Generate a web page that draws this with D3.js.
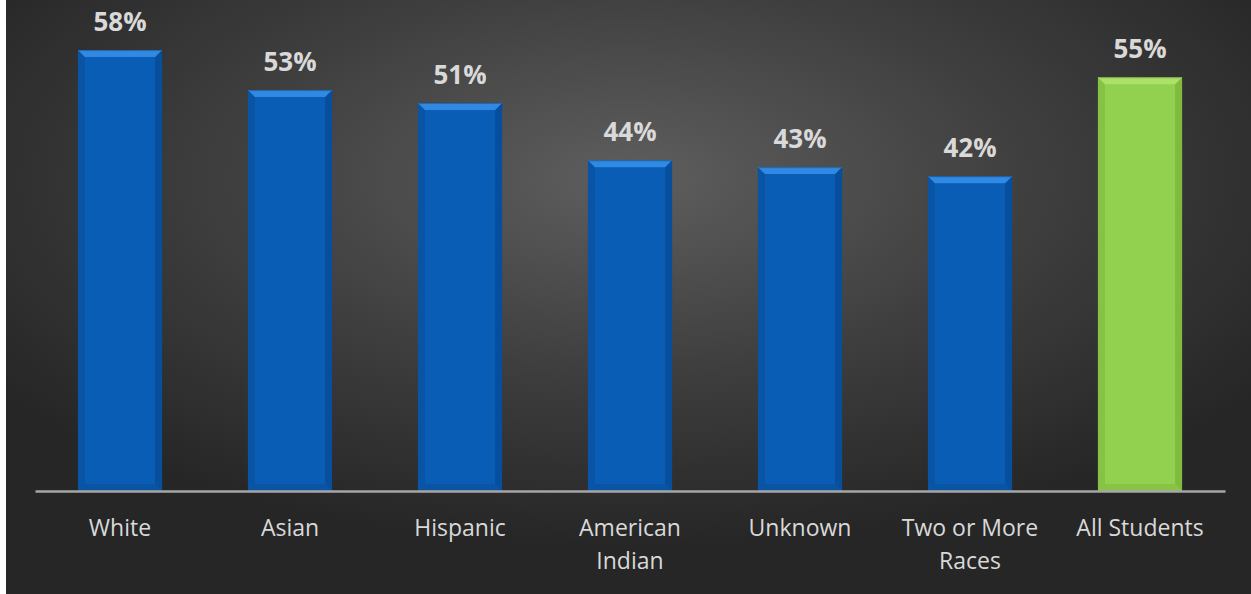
<!DOCTYPE html>
<html><head><meta charset="utf-8">
<script src="https://cdn.jsdelivr.net/npm/d3@7"></script>
<style>html,body{margin:0;padding:0;background:#fff;}svg{display:block;}</style>
</head><body>
<script>
const categories = ["White", "Asian", "Hispanic", "American Indian", "Unknown", "Two or More Races", "All Students"];
const values = [58.4, 53.1, 51.4, 43.8, 42.9, 41.7, 54.8];
const labels = ["58%", "53%", "51%", "44%", "43%", "42%", "55%"];
const highlight = ["All Students"];

const W = 1251, H = 594;
const svg = d3.select("body").append("svg").attr("width", W).attr("height", H);
const defs = svg.append("defs");

const bg = defs.append("radialGradient").attr("id", "bg")
  .attr("cx", 0.5).attr("cy", 0.3).attr("r", 0.62);
bg.append("stop").attr("offset", 0).attr("stop-color", "#5e5e5e");
bg.append("stop").attr("offset", 0.55).attr("stop-color", "#3d3d3d");
bg.append("stop").attr("offset", 1).attr("stop-color", "#262626");
svg.append("rect").attr("x", 6).attr("y", 0).attr("width", W - 6).attr("height", H).attr("fill", "url(#bg)");

const x = d3.scaleBand().domain(categories).range([35, 1225]).paddingInner(0.505).paddingOuter(0.2525);
const y = d3.scaleLinear().domain([0, 60]).range([491, 38]);

const pal = {
  blue: {face: "#0a5db4", top: "#3089e2", side: "#074b94", bottom: "#0a53a0"},
  green: {face: "#92d050", top: "#acE268", side: "#79b43a", bottom: "#84c044"}
};

const data = categories.map((c, i) => ({c, v: values[i], l: labels[i]}));
const bev = 7;
const g = svg.append("g");
data.forEach(d => {
  const p = highlight.includes(d.c) ? pal.green : pal.blue;
  const x0 = x(d.c), w = x.bandwidth(), y0 = y(d.v), y1 = y(0);
  const bg_ = g.append("g");
  bg_.append("rect").attr("x", x0).attr("y", y0).attr("width", w).attr("height", y1 - y0).attr("fill", p.face);
  bg_.append("polygon").attr("points", [[x0, y0], [x0 + bev, y0 + bev], [x0 + bev, y1 - bev], [x0, y1]].join(" ")).attr("fill", p.side).attr("opacity", 0.5);
  bg_.append("polygon").attr("points", [[x0 + w, y0], [x0 + w - bev, y0 + bev], [x0 + w - bev, y1 - bev], [x0 + w, y1]].join(" ")).attr("fill", p.side).attr("opacity", 0.75);
  bg_.append("polygon").attr("points", [[x0, y1], [x0 + bev, y1 - bev], [x0 + w - bev, y1 - bev], [x0 + w, y1]].join(" ")).attr("fill", p.bottom).attr("opacity", 0.8);
  bg_.append("polygon").attr("points", [[x0, y0], [x0 + w, y0], [x0 + w - bev, y0 + bev], [x0 + bev, y0 + bev]].join(" ")).attr("fill", p.top);
  bg_.append("line").attr("x1", x0 + 1).attr("x2", x0 + w - 1).attr("y1", y0 + 0.5).attr("y2", y0 + 0.5).attr("stroke", "#000").attr("stroke-opacity", 0.25);
});

g.selectAll("text.val").data(data).join("text").attr("class", "val")
  .attr("x", d => x(d.c) + x.bandwidth() / 2)
  .attr("y", d => y(d.v) - 19)
  .attr("text-anchor", "middle")
  .attr("font-family", "'Open Sans', sans-serif").attr("font-weight", 700).attr("font-size", 26)
  .attr("fill", "#d9d9d9").text(d => d.l);

const axis = svg.append("g").attr("transform", `translate(0,${y(0)})`).call(d3.axisBottom(x).tickSize(0).tickFormat(""));
axis.select(".domain").attr("stroke", "#a6a6a6").attr("stroke-width", 2.5);

const wrapMap = {"American Indian": ["American", "Indian"], "Two or More Races": ["Two or More", "Races"]};
const cl = svg.append("g").selectAll("text").data(categories).join("text")
  .attr("x", d => x(d) + x.bandwidth() / 2)
  .attr("y", 536)
  .attr("text-anchor", "middle")
  .attr("font-family", "'Open Sans', sans-serif").attr("font-size", 23)
  .attr("fill", "#d9d9d9");
cl.each(function(d) {
  const lines = wrapMap[d] || [d];
  const t = d3.select(this);
  lines.forEach((ln, i) => t.append("tspan").attr("x", x(d) + x.bandwidth() / 2).attr("dy", i ? 33 : 0).text(ln));
});
</script>
</body></html>
